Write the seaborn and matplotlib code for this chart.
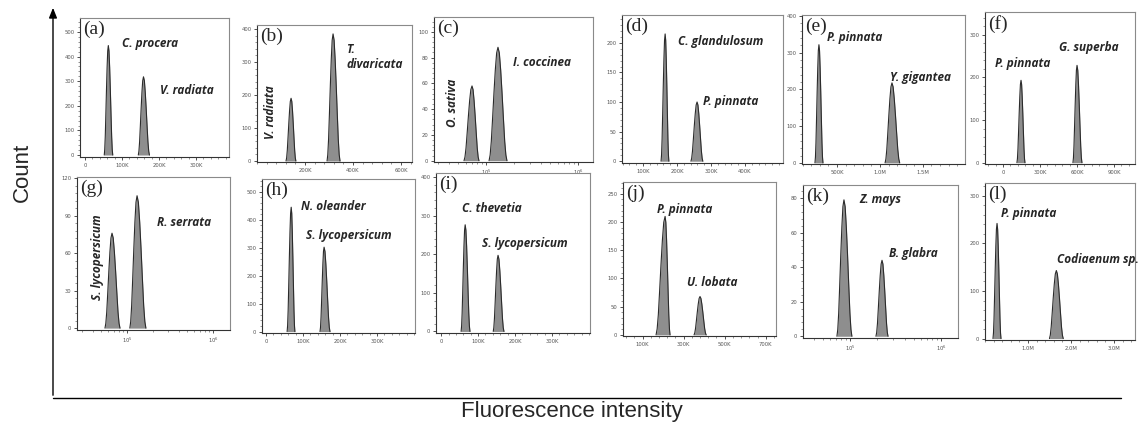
import numpy as np
import pandas as pd
import matplotlib
matplotlib.use("Agg")
import matplotlib.pyplot as plt
from matplotlib.ticker import AutoMinorLocator, LogLocator, NullFormatter
import seaborn as sns

# ---------------- data ----------------
A_SPECIES = ["C. procera", "V. radiata"]
A_LEFT = [52e3, 144e3]
A_APEX = [63e3, 158e3]
A_RIGHT = [75e3, 174e3]
A_HEIGHT = [445, 318]

B_SPECIES = ["V. radiata", "T. divaricata"]
B_LEFT = [121e3, 292e3]
B_APEX = [142e3, 317e3]
B_RIGHT = [162e3, 346e3]
B_HEIGHT = [190, 385]

C_SPECIES = ["O. sativa", "I. coccinea"]
C_LEFT = [57.7e3, 108e3]
C_APEX = [70.5e3, 135e3]
C_RIGHT = [83.9e3, 169e3]
C_HEIGHT = [58, 88]

D_SPECIES = ["C. glandulosum", "P. pinnata"]
D_LEFT = [153e3, 241e3]
D_APEX = [165e3, 259e3]
D_RIGHT = [176e3, 276e3]
D_HEIGHT = [215, 100]

E_SPECIES = ["P. pinnata", "Y. gigantea"]
E_LEFT = [244e3, 1.06e6]
E_APEX = [290e3, 1.14e6]
E_RIGHT = [337e3, 1.23e6]
E_HEIGHT = [322, 218]

F_SPECIES = ["P. pinnata", "G. superba"]
F_LEFT = [113e3, 567e3]
F_APEX = [146e3, 600e3]
F_RIGHT = [178e3, 640e3]
F_HEIGHT = [193, 228]

G_SPECIES = ["S. lycopersicum", "R. serrata"]
G_LEFT = [55.5e3, 108e3]
G_APEX = [67.0e3, 131e3]
G_RIGHT = [83.0e3, 166e3]
G_HEIGHT = [76, 106]

H_SPECIES = ["N. oleander", "S. lycopersicum"]
H_LEFT = [57e3, 146e3]
H_APEX = [68e3, 157e3]
H_RIGHT = [78e3, 173e3]
H_HEIGHT = [445, 302]

I_SPECIES = ["C. thevetia", "S. lycopersicum"]
I_LEFT = [54e3, 141e3]
I_APEX = [65e3, 154e3]
I_RIGHT = [78e3, 170e3]
I_HEIGHT = [276, 197]

J_SPECIES = ["P. pinnata", "U. lobata"]
J_LEFT = [166e3, 351e3]
J_APEX = [210e3, 380e3]
J_RIGHT = [234e3, 410e3]
J_HEIGHT = [210, 68]

K_SPECIES = ["Z. mays", "B. glabra"]
K_LEFT = [71.9e3, 193e3]
K_APEX = [85.9e3, 225e3]
K_RIGHT = [105e3, 262e3]
K_HEIGHT = [79, 44]

L_SPECIES = ["P. pinnata", "Codiaenum sp."]
L_LEFT = [186e3, 1.50e6]
L_APEX = [280e3, 1.66e6]
L_RIGHT = [372e3, 1.82e6]
L_HEIGHT = [242, 143]

PANEL_LETTERS = ["a", "b", "c", "d", "e", "f", "g", "h", "i", "j", "k", "l"]

XTICKS_100K = [0, 100e3, 200e3, 300e3]
XTICKLABELS_100K = ["0", "100K", "200K", "300K"]
XTICKS_B = [200e3, 400e3, 600e3]
XTICKLABELS_B = ["200K", "400K", "600K"]
XTICKS_LOG = [1e5, 1e6]
XTICKLABELS_LOG = [r"$10^5$", r"$10^6$"]
XTICKS_D = [100e3, 200e3, 300e3, 400e3]
XTICKLABELS_D = ["100K", "200K", "300K", "400K"]
XTICKS_E = [500e3, 1.0e6, 1.5e6]
XTICKLABELS_E = ["500K", "1.0M", "1.5M"]
XTICKS_F = [0, 300e3, 600e3, 900e3]
XTICKLABELS_F = ["0", "300K", "600K", "900K"]
XTICKS_J = [100e3, 300e3, 500e3, 700e3]
XTICKLABELS_J = ["100K", "300K", "500K", "700K"]
XTICKS_L = [1.0e6, 2.0e6, 3.0e6]
XTICKLABELS_L = ["1.0M", "2.0M", "3.0M"]

YTICKS_A = [0, 100, 200, 300, 400, 500]
YTICKS_B = [0, 100, 200, 300, 400]
YTICKS_C = [0, 20, 40, 60, 80, 100]
YTICKS_D = [0, 50, 100, 150, 200]
YTICKS_F = [0, 100, 200, 300]
YTICKS_G = [0, 30, 60, 90, 120]
YTICKS_J = [0, 50, 100, 150, 200, 250]
YTICKS_K = [0, 20, 40, 60, 80]

# relative peak profile (fraction of foot->apex distance, fraction of height)
PROFILE_T = [0.0, 0.12, 0.25, 0.4, 0.55, 0.7, 0.85, 1.0]
PROFILE_Y = [0.0, 0.05, 0.17, 0.38, 0.6, 0.8, 0.95, 1.0]

# ---------------- layout (pixels in a 1141 x 428 canvas) ----------------
W, H = 1141, 428
PANELS = [
    # letter, peaks, box(x0,y0,x1,y1), xlim, ylim, log, xticks, xlabels, yticks
    ("a", (A_SPECIES, A_LEFT, A_APEX, A_RIGHT, A_HEIGHT), (80, 18, 229, 157), (-13.5e3, 389e3), (-8, 557), False, XTICKS_100K, XTICKLABELS_100K, YTICKS_A),
    ("b", (B_SPECIES, B_LEFT, B_APEX, B_RIGHT, B_HEIGHT), (257, 25, 412, 162), (0, 646e3), (-3, 412), False, XTICKS_B, XTICKLABELS_B, YTICKS_B),
    ("c", (C_SPECIES, C_LEFT, C_APEX, C_RIGHT, C_HEIGHT), (434, 17, 593, 162), (10**4.435, 10**6.163), (-1, 111.5), True, XTICKS_LOG, XTICKLABELS_LOG, YTICKS_C),
    ("d", (D_SPECIES, D_LEFT, D_APEX, D_RIGHT, D_HEIGHT), (622, 15, 783, 163), (38e3, 512e3), (-3, 247), False, XTICKS_D, XTICKLABELS_D, YTICKS_D),
    ("e", (E_SPECIES, E_LEFT, E_APEX, E_RIGHT, E_HEIGHT), (802, 15, 965, 164), (93e3, 1.99e6), (-3, 403), False, XTICKS_E, XTICKLABELS_E, YTICKS_B),
    ("f", (F_SPECIES, F_LEFT, F_APEX, F_RIGHT, F_HEIGHT), (985, 12, 1135, 164), (-146e3, 1.07e6), (-3, 353), False, XTICKS_F, XTICKLABELS_F, YTICKS_F),
    ("g", (G_SPECIES, G_LEFT, G_APEX, G_RIGHT, G_HEIGHT), (77, 177, 230, 330), (10**4.419, 10**6.198), (-1.5, 121), True, XTICKS_LOG, XTICKLABELS_LOG, YTICKS_G),
    ("h", (H_SPECIES, H_LEFT, H_APEX, H_RIGHT, H_HEIGHT), (262, 179, 415, 333), (-11e3, 403e3), (-5, 546), False, XTICKS_100K, XTICKLABELS_100K, YTICKS_A),
    ("i", (I_SPECIES, I_LEFT, I_APEX, I_RIGHT, I_HEIGHT), (436, 173, 590, 333), (-14e3, 403e3), (-4, 410), False, XTICKS_100K, XTICKLABELS_100K, YTICKS_B),
    ("j", (J_SPECIES, J_LEFT, J_APEX, J_RIGHT, J_HEIGHT), (623, 182, 776, 336), (5e3, 750e3), (-2, 271), False, XTICKS_J, XTICKLABELS_J, YTICKS_J),
    ("k", (K_SPECIES, K_LEFT, K_APEX, K_RIGHT, K_HEIGHT), (803, 185, 958, 338), (10**4.484, 10**6.187), (-1, 87.6), True, XTICKS_LOG, XTICKLABELS_LOG, YTICKS_K),
    ("l", (L_SPECIES, L_LEFT, L_APEX, L_RIGHT, L_HEIGHT), (985, 183, 1135, 340), (0, 3.49e6), (-3, 327), False, XTICKS_L, XTICKLABELS_L, YTICKS_F),
]

# species label placement: (x_left, y_center, rotation) in pixels
LABEL_POS = {
    "a": [(122, 44, 0), (160, 90, 0)],
    "b": [(270, 112, 90), (346, 57, 0)],
    "c": [(452, 103, 90), (513, 63, 0)],
    "d": [(678, 42, 0), (703, 102, 0)],
    "e": [(827, 38, 0), (890, 77, 0)],
    "f": [(995, 63, 0), (1059, 48, 0)],
    "g": [(97, 257, 90), (157, 222, 0)],
    "h": [(301, 206, 0), (306, 236, 0)],
    "i": [(462, 208, 0), (482, 244, 0)],
    "j": [(657, 209, 0), (687, 282, 0)],
    "k": [(859, 199, 0), (889, 253, 0)],
    "l": [(1001, 213, 0), (1057, 260, 0)],
}

sns.set_theme(style="ticks")
plt.rcParams["font.family"] = ["DejaVu Sans"]
plt.rcParams["mathtext.fontset"] = "dejavusans"

fig = plt.figure(figsize=(W / 100, H / 100), dpi=100)


def fx(x):
    return x / W


def fy(y):
    return 1 - y / H


# overlay axes for the outer Count / Fluorescence frame
ov = fig.add_axes([0, 0, 1, 1], zorder=0)
ov.set_xlim(0, W)
ov.set_ylim(H, 0)
ov.axis("off")
ov.patch.set_visible(False)
ov.annotate("", xy=(53, 5), xytext=(53, 398),
            arrowprops=dict(arrowstyle="-|>,head_length=0.5,head_width=0.2", color="black", lw=1.0))
ov.plot([53, 1121], [398, 398], color="black", lw=1.0)
ov.text(22, 172, "Count", rotation=90, ha="center", va="center",
        fontsize=16, family="Liberation Sans")
ov.text(572, 411, "Fluorescence intensity", ha="center", va="center",
        fontsize=16, family="Liberation Sans")

FILL = "#8e8e8e"
EDGE = "#2b2b2b"

for letter, peaks, box, xlim, ylim, is_log, xt, xtl, yt in PANELS:
    x0, y0, x1, y1 = box
    ax = fig.add_axes([fx(x0), fy(y1), fx(x1 - x0), (y1 - y0) / H], zorder=2)
    ax.set_facecolor("white")
    species, lefts, apexes, rights, heights = peaks
    for sp, lf, ap, rt, hh in zip(species, lefts, apexes, rights, heights):
        t = np.array(PROFILE_T)
        p = np.array(PROFILE_Y)
        if is_log:
            l_, a_, r_ = np.log10(lf), np.log10(ap), np.log10(rt)
        else:
            l_, a_, r_ = lf, ap, rt
        xs_left = l_ + (a_ - l_) * t
        xs_right = r_ - (r_ - a_) * t[::-1]
        xs = np.concatenate([xs_left, xs_right[1:]])
        ys = hh * np.concatenate([p, p[::-1][1:]])
        if is_log:
            xs = 10 ** xs
        df = pd.DataFrame({"x": xs, "y": ys})
        ax.fill_between(df["x"], 0, df["y"], color=FILL, lw=0)
        sns.lineplot(data=df, x="x", y="y", sort=False, ax=ax, color=EDGE, lw=0.8,
                     estimator=None)
    if is_log:
        ax.set_xscale("log")
        ax.xaxis.set_minor_locator(LogLocator(base=10, subs=np.arange(2, 10)))
        ax.xaxis.set_minor_formatter(NullFormatter())
    else:
        ax.xaxis.set_minor_locator(AutoMinorLocator(5))
    ax.set_xlim(*xlim)
    ax.set_ylim(*ylim)
    ax.set_xticks(xt)
    ax.set_xticklabels(xtl)
    ax.set_yticks(yt)
    ax.set_yticklabels([str(v) for v in yt])
    ax.yaxis.set_minor_locator(AutoMinorLocator(5))
    ax.set_xlabel("")
    ax.set_ylabel("")
    ax.tick_params(axis="both", which="major", length=2.5, width=0.6, pad=1.5,
                   labelsize=3.8, labelcolor="#555555", color="#333333")
    ax.tick_params(axis="both", which="minor", length=1.3, width=0.4, color="#444444")
    for side in ["top", "right"]:
        ax.spines[side].set_color("#8a8a8a")
        ax.spines[side].set_linewidth(0.8)
    for side in ["left", "bottom"]:
        ax.spines[side].set_color("#333333")
        ax.spines[side].set_linewidth(0.8)

    # panel letter
    fig.text(fx(x0 + 3), fy(y0 + 3), f"({letter})", ha="left", va="top",
             fontsize=14, family="Liberation Serif", zorder=5)
    # species labels
    for (lx, ly, rot), sp in zip(LABEL_POS[letter], species):
        txt = sp
        if sp == "T. divaricata":
            txt = "T.\ndivaricata"
        fig.text(fx(lx), fy(ly), txt, ha="center" if rot else "left", va="center",
                 rotation=rot, fontsize=8.5, fontweight="bold", fontstyle="italic",
                 family=["Open Sans", "DejaVu Sans"], linespacing=1.2, zorder=5)

fig.savefig("out.png", dpi=100)
